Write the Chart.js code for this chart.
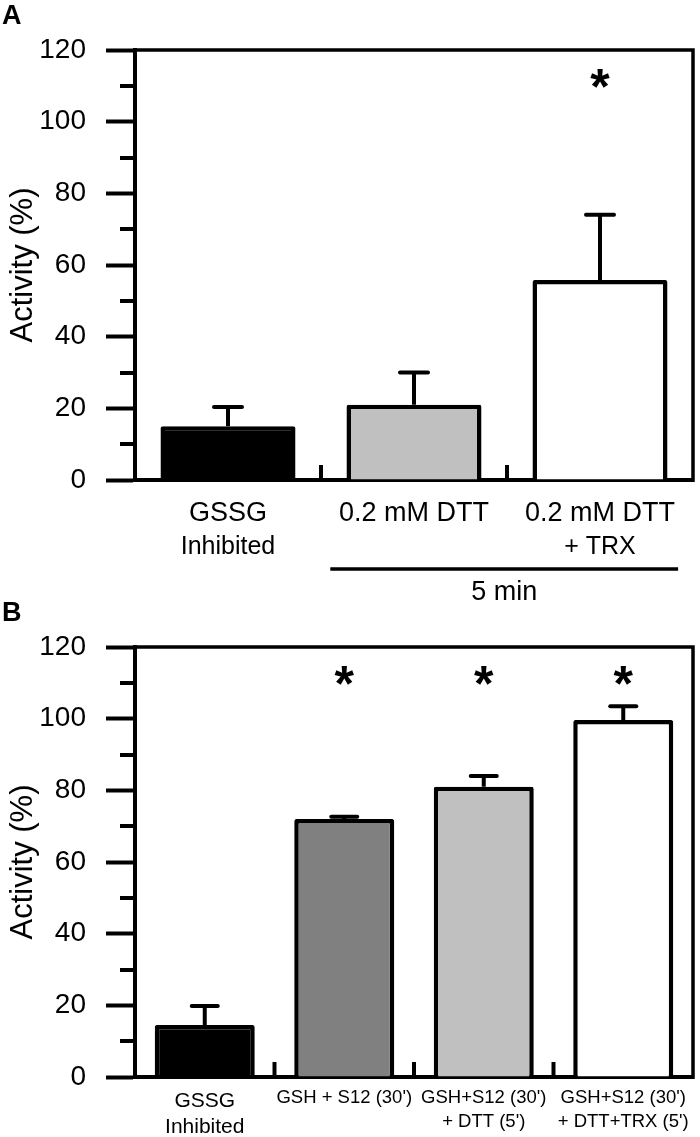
<!DOCTYPE html>
<html><head><meta charset="utf-8">
<script src="https://cdn.jsdelivr.net/npm/chart.js@4.4.1/dist/chart.umd.min.js"></script>
<style>
html,body{margin:0;padding:0;background:#fff;}
#wrap{position:relative;width:700px;height:1137px;overflow:hidden;}
#cA{position:absolute;left:0;top:0;}
#cB{position:absolute;left:0;top:597px;}
</style></head><body>
<div id="wrap"><canvas id="cA" width="700" height="620"></canvas><canvas id="cB" width="700" height="540"></canvas></div>
<script>
const FONT = "'Liberation Sans', Arial, Helvetica, sans-serif";

// Y axis (both panels)
const yMin = 0;
const yMax = 120;
const yStep = 10;
const yLabelStep = 20;
const yTitle = "Activity (%)";
const sigLevel = 112; // height at which asterisks sit

// Panel A
const catsA_line1 = ["GSSG", "0.2 mM DTT", "0.2 mM DTT"];
const catsA_line2 = ["Inhibited", "", "+ TRX"];
const meansA = [15, 21, 55.8];
const upperA = [20.4, 30, 74];
const colorsA = ["#000000", "#c0c0c0", "#ffffff"];
const sigA = [false, false, true];
const bracketA = "5 min";

// Panel B
const catsB_line1 = ["GSSG", "GSH + S12 (30')", "GSH+S12 (30')", "GSH+S12 (30')"];
const catsB_line2 = ["Inhibited", "", "+ DTT (5')", "+ DTT+TRX (5')"];
const meansB = [14.5, 72, 81, 99.6];
const upperB = [19.8, 72.6, 84, 103.5];
const colorsB = ["#000000", "#808080", "#c0c0c0", "#ffffff"];
const sigB = [false, true, true, true];

const LW = 4;

function makePlugin(cfg){
  return {
    id: 'decor',
    afterDatasetsDraw(chart){
      const ctx = chart.ctx, x = chart.scales.x, y = chart.scales.y, ca = chart.chartArea;
      ctx.save();
      ctx.strokeStyle = '#000'; ctx.fillStyle = '#000';
      // top and right frame
      ctx.lineWidth = 3.5; ctx.lineCap = 'butt';
      ctx.beginPath(); ctx.moveTo(ca.left, ca.top); ctx.lineTo(ca.right, ca.top); ctx.lineTo(ca.right, ca.bottom + 2); ctx.stroke();
      // minor ticks
      ctx.lineWidth = LW;
      y.ticks.forEach(t => {
        if (t.value % yLabelStep !== 0) {
          const py = Math.round(y.getPixelForValue(t.value));
          ctx.beginPath(); ctx.moveTo(ca.left - 15, py); ctx.lineTo(ca.left, py); ctx.stroke();
        }
      });
      // category separators (inward ticks)
      const n = chart.data.labels.length;
      for (let i = 0; i < n - 1; i++) {
        const px = (x.getPixelForValue(i) + x.getPixelForValue(i + 1)) / 2;
        ctx.beginPath(); ctx.moveTo(px, ca.bottom); ctx.lineTo(px, ca.bottom - 15); ctx.stroke();
      }
      // error bars
      ctx.lineWidth = 4;
      cfg.upper.forEach((u, i) => {
        const px = x.getPixelForValue(i);
        const yTop = y.getPixelForValue(cfg.means[i]);
        const yU = y.getPixelForValue(u);
        ctx.lineCap = 'butt';
        ctx.beginPath(); ctx.moveTo(px, yTop); ctx.lineTo(px, yU); ctx.stroke();
        ctx.lineCap = 'round';
        ctx.beginPath(); ctx.moveTo(px - cfg.capW / 2 + 2, yU); ctx.lineTo(px + cfg.capW / 2 - 2, yU); ctx.stroke();
      });
      // asterisks
      ctx.font = "bold 50px " + FONT;
      ctx.textAlign = 'center'; ctx.textBaseline = 'alphabetic';
      const m = ctx.measureText('*');
      const asc = m.actualBoundingBoxAscent, desc = m.actualBoundingBoxDescent;
      cfg.sig.forEach((s, i) => {
        if (!s) return;
        const px = x.getPixelForValue(i);
        const py = y.getPixelForValue(sigLevel);
        ctx.fillText('*', px, py + (asc - desc) / 2);
      });
      // x labels
      for (let i = 0; i < n; i++) {
        const px = x.getPixelForValue(i);
        const f = cfg.fonts(i);
        ctx.font = f[0] + "px " + FONT;
        ctx.fillText(cfg.line1[i], px, ca.bottom + f[2]);
        ctx.font = f[1] + "px " + FONT;
        ctx.fillText(cfg.line2[i], px, ca.bottom + f[3]);
      }
      // bracket
      if (cfg.bracket) {
        const w = x.getPixelForValue(1) - x.getPixelForValue(0);
        const x1 = x.getPixelForValue(1) - 0.45 * w;
        const x2 = x.getPixelForValue(2) + 0.42 * w;
        ctx.lineWidth = 3.5; ctx.lineCap = 'butt';
        ctx.beginPath(); ctx.moveTo(x1, ca.bottom + 89); ctx.lineTo(x2, ca.bottom + 89); ctx.stroke();
        ctx.font = "27px " + FONT;
        ctx.fillText(cfg.bracket, (x1 + x2) / 2, ca.bottom + 120);
      }
      // panel letter
      ctx.font = "bold 27px " + FONT;
      ctx.textAlign = 'left';
      ctx.fillText(cfg.letter, 2, 24);
      ctx.restore();
    }
  };
}

function makeChart(id, cfg){
  const canvas = document.getElementById(id);
  const H = canvas.height;
  return new Chart(canvas, {
    type: 'bar',
    data: {
      labels: cfg.line1.map((l, i) => [l, cfg.line2[i]]),
      datasets: [{
        data: cfg.means,
        backgroundColor: cfg.colors,
        borderColor: '#000',
        borderWidth: 4.5,
        borderRadius: 2,
        borderSkipped: 'start',
        barPercentage: cfg.barPct,
        categoryPercentage: 1
      }]
    },
    options: {
      responsive: false,
      animation: false,
      devicePixelRatio: 1,
      layout: { padding: { top: 50, right: 7, left: 0, bottom: 0 } },
      plugins: { legend: { display: false }, tooltip: { enabled: false } },
      scales: {
        x: {
          grid: { display: false },
          border: { display: true, color: '#000', width: LW },
          ticks: { display: false },
          afterFit: s => { s.height = H - 50 - 430; }
        },
        y: {
          min: yMin, max: yMax,
          afterFit: s => { s.width = 135; },
          ticks: {
            stepSize: yStep,
            autoSkip: false,
            padding: 20,
            color: '#000',
            font: { family: FONT, size: 28 },
            callback: v => (v % yLabelStep === 0 ? String(v) : '')
          },
          grid: {
            drawOnChartArea: false,
            drawTicks: true,
            tickLength: 29,
            tickWidth: LW,
            tickColor: c => (c.tick && c.tick.value % yLabelStep === 0 ? '#000' : 'rgba(0,0,0,0)')
          },
          border: { display: true, color: '#000', width: LW },
          title: {
            display: true, text: yTitle, color: '#000',
            font: { family: FONT, size: 31 },
            padding: { top: 5, bottom: 0 }
          }
        }
      }
    },
    plugins: [makePlugin(cfg)]
  });
}

makeChart('cA', {
  line1: catsA_line1, line2: catsA_line2, means: meansA, upper: upperA, colors: colorsA, sig: sigA,
  barPct: 0.726, capW: 32, letter: 'A', bracket: bracketA,
  fonts: i => [27, 25, 41, 74]
});
makeChart('cB', {
  line1: catsB_line1, line2: catsB_line2, means: meansB, upper: upperB, colors: colorsB, sig: sigB,
  barPct: 0.717, capW: 30, letter: 'B', bracket: null,
  fonts: i => (i === 0 ? [21, 21, 30, 56] : [18.5, 18.5, 26, 50])
});
</script>
</body></html>
